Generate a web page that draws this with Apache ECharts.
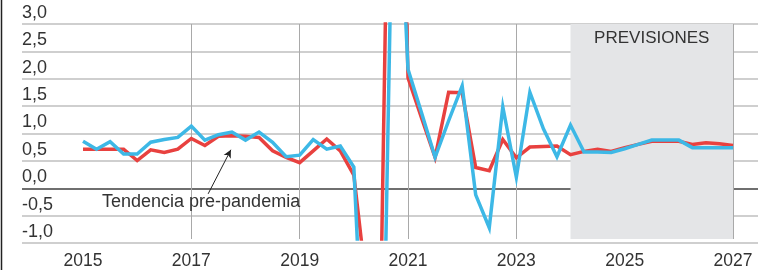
<!DOCTYPE html>
<html>
<head>
<meta charset="utf-8">
<script src="https://cdn.jsdelivr.net/npm/echarts@6/dist/echarts.min.js"></script>
<style>
  html, body { margin: 0; padding: 0; background: #fff; }
  #chart { width: 776px; height: 270px; }
</style>
</head>
<body>
<div id="chart"></div>
<script>
// datos trimestrales desde 2015T1 hasta 2027T1
var startYear = 2015;
var rojo = [
    0.67, 0.67, 0.67, 0.67,
    0.46, 0.66, 0.61, 0.67,
    0.87, 0.74, 0.91, 0.92,
    0.91, 0.89, 0.64, 0.52,
    0.42, 0.64, 0.86, 0.64,
    0.19, -2.0, -2.0, 13.3,
    2.0, 1.25, 0.52, 1.73,
    1.72, 0.33, 0.27, 0.85,
    0.51, 0.71, 0.72, 0.73,
    0.57, 0.63, 0.67, 0.63,
    0.70, 0.76, 0.82, 0.82,
    0.82, 0.76, 0.79, 0.77,
    0.74
];
var azul = [
    0.82, 0.67, 0.81, 0.58,
    0.58, 0.80, 0.85, 0.89,
    1.10, 0.84, 0.94, 0.99,
    0.84, 0.99, 0.80, 0.53,
    0.56, 0.85, 0.67, 0.73,
    0.34, -5.0, -6.0, 7.5,
    2.16, 1.35, 0.52, 1.20,
    1.85, -0.18, -0.79, 1.46,
    0.15, 1.73, 1.05, 0.53,
    1.12, 0.62, 0.62, 0.61,
    0.68, 0.76, 0.84, 0.84,
    0.84, 0.70, 0.70, 0.70,
    0.70
];
var yearTicks = [2015, 2017, 2019, 2021, 2023, 2025, 2027];
var yTicks = [-1.0, -0.5, 0.0, 0.5, 1.0, 1.5, 2.0, 2.5, 3.0];
var previsiones = [2024, 2027];
var nota = 'Tendencia pre-pandemia';

function toPairs(arr) {
    var out = [];
    for (var i = 0; i < arr.length; i++) {
        out.push([startYear + i / 4, arr[i]]);
    }
    return out;
}

var gridColors = yTicks.map(function (v) { return v === 0 ? '#6f6f6f' : '#cfcfcf'; });

var myChart = echarts.init(document.getElementById('chart'), null, {renderer: 'canvas'});
var option = {
    animation: false,
    textStyle: { fontFamily: 'Liberation Sans, Arial, sans-serif' },
    grid: [
        { left: 22, right: 18, top: 24, bottom: 27 },
        { left: 83, right: 43, top: 24, bottom: 27 }
    ],
    xAxis: [
        { gridIndex: 0, type: 'value', min: 0, max: 1, show: false },
        {
            gridIndex: 1, type: 'value', min: yearTicks[0], max: yearTicks[yearTicks.length - 1], interval: 2,
            axisLine: { show: false },
            axisTick: { show: false },
            axisLabel: {
                color: '#333', fontSize: 17.5, margin: 13,
                formatter: function (v) { return String(v); }
            },
            splitLine: { show: true, showMinLine: false, lineStyle: { color: '#a9a9a9', width: 1 } }
        }
    ],
    yAxis: [
        {
            gridIndex: 0, type: 'value', min: yTicks[0], max: yTicks[yTicks.length - 1], interval: 0.5,
            axisLine: { show: false },
            axisTick: { show: false },
            axisLabel: {
                inside: true, margin: 0, align: 'left', verticalAlign: 'bottom',
                padding: [0, 0, 2, 0],
                color: '#333', fontSize: 18,
                formatter: function (v) { return v.toFixed(1).replace('.', ','); }
            },
            splitLine: { show: true, lineStyle: { color: gridColors, width: 2 } }
        },
        {
            gridIndex: 1, type: 'value', min: yTicks[0], max: yTicks[yTicks.length - 1], interval: 0.5,
            show: false
        }
    ],
    graphic: [
        { type: 'line', shape: { x1: 1.5, y1: 0, x2: 1.5, y2: 270 }, style: { stroke: '#222', lineWidth: 1.5 } }
    ],
    series: [
        {
            name: 'rojo', type: 'line', xAxisIndex: 1, yAxisIndex: 1,
            data: toPairs(rojo), showSymbol: false, symbol: 'none',
            lineStyle: { color: '#e8413f', width: 3.5, join: 'miter' },
            z: 3,
            markArea: {
                silent: true,
                itemStyle: { color: '#e4e5e7' },
                label: {
                    show: true, position: 'insideTop', distance: 6,
                    color: '#333', fontSize: 17
                },
                data: [[{ name: 'PREVISIONES', coord: [previsiones[0], 3] }, { coord: [previsiones[1], -1] }]]
            },
            markLine: {
                silent: true,
                symbol: ['none', 'arrow'],
                symbolSize: [6, 8],
                label: { show: false },
                lineStyle: { color: '#222', width: 1, type: 'solid' },
                data: [[{ coord: [2017.31, -0.16] }, { coord: [2017.73, 0.66] }]]
            }
        },
        {
            name: 'azul', type: 'line', xAxisIndex: 1, yAxisIndex: 1,
            data: toPairs(azul), showSymbol: false, symbol: 'none',
            lineStyle: { color: '#3db8e6', width: 3.5, join: 'miter' },
            z: 4,
            markPoint: {
                silent: true,
                symbol: 'rect', symbolSize: 0,
                label: {
                    show: true, position: 'inside', color: '#333', fontSize: 18,
                    formatter: nota
                },
                data: [{ coord: [2017.18, -0.31] }]
            }
        }
    ]
};
myChart.setOption(option);
</script>
</body>
</html>
